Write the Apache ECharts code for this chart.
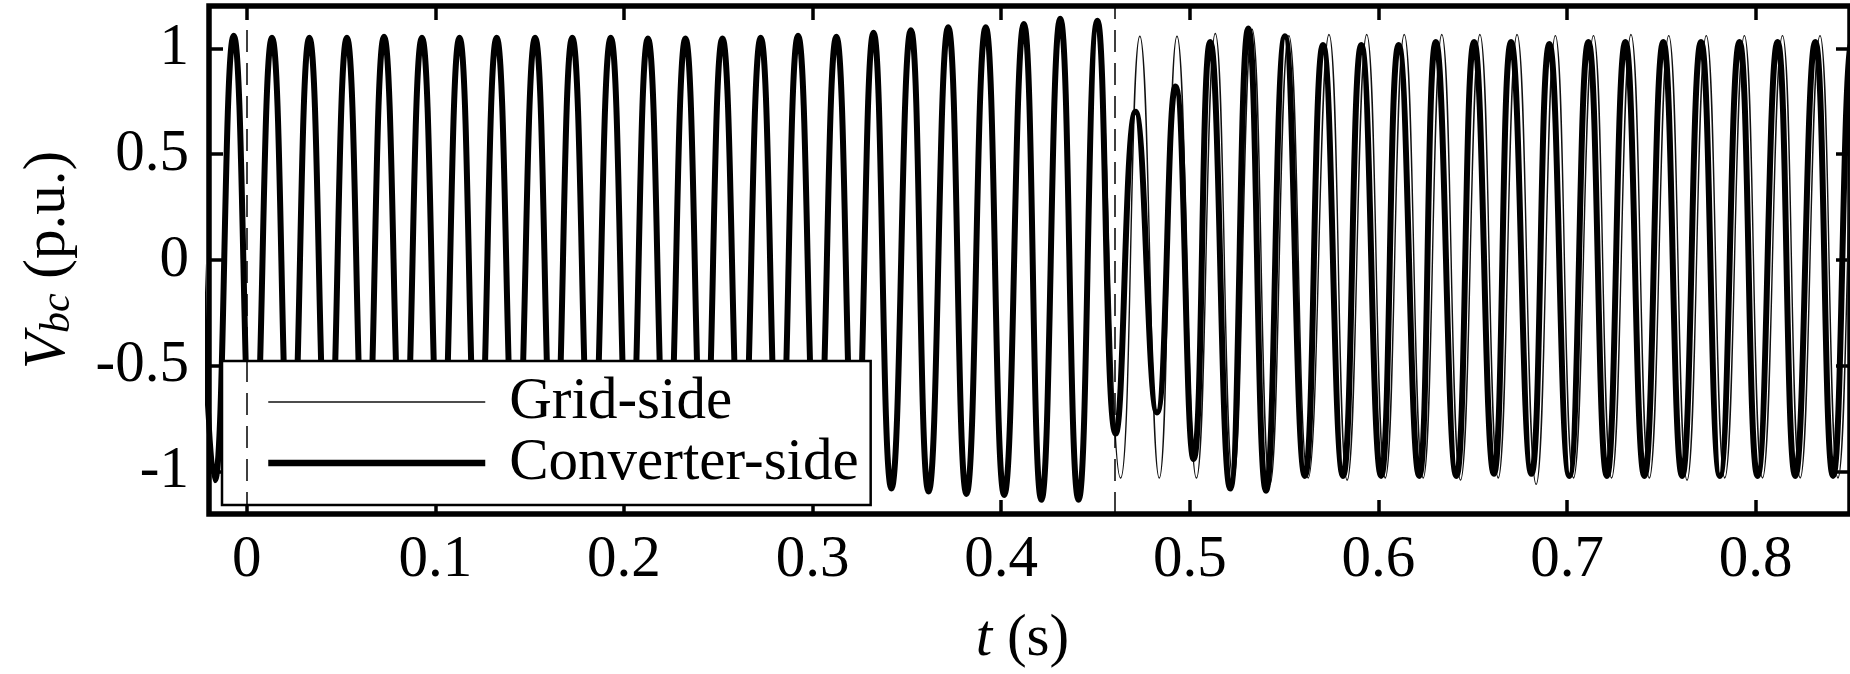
<!DOCTYPE html>
<html>
<head>
<meta charset="utf-8">
<script src="https://cdn.jsdelivr.net/npm/echarts@6/dist/echarts.min.js"></script>
<style>
html,body{margin:0;padding:0;background:#fff;}
#chart{width:1850px;height:674px;}
</style>
</head>
<body>
<div id="chart"></div>
<script>
// Extremes (peaks / troughs), time in s, value in p.u.
// Before the event both curves coincide.
const sharedT = [-0.0269,-0.0169,-0.0069,0.0033,0.0134,0.0233,0.0332,0.0432,0.0531,0.0630,0.0728,0.0829,0.0929,0.1029,0.1128,0.1227,0.1325,0.1427,0.1529,0.1628,0.1726,0.1828,0.1930,0.2029,0.2127,0.2227,0.2326,0.2424,0.2522,0.2624,0.2725,0.2824,0.2923,0.3025,0.3126,0.3225,0.3323,0.3418,0.3521,0.3615,0.3719,0.3816,0.3918,0.4016,0.4120,0.4213,0.4313,0.4410,0.4510];
const sharedV = [1.05,-1.04,1.06,-1.05,1.05,-1.05,1.05,-1.05,1.05,-1.05,1.055,-1.05,1.05,-1.05,1.05,-1.05,1.05,-1.05,1.05,-1.05,1.05,-1.05,1.05,-1.05,1.047,-1.05,1.047,-1.05,1.047,-1.05,1.05,-1.055,1.06,-1.06,1.055,-1.07,1.074,-1.079,1.086,-1.094,1.10,-1.105,1.10,-1.11,1.115,-1.133,1.14,-1.133,1.13];

const gridPostT = [0.4633,0.4735,0.4838,0.4932,0.5035,0.5135,0.5230,0.5330,0.5425,0.5525,0.5627,0.5738,0.5834,0.5938,0.6036,0.6137,0.6237,0.6336,0.6435,0.6538,0.6635,0.6735,0.6836,0.6938,0.7034,0.7140,0.7236,0.7339,0.7436,0.7539,0.7636,0.7738,0.7836,0.7940,0.8036,0.8142,0.8236,0.8341,0.8436,0.8540,0.8640];
const gridPostV = [-1.03,1.057,-1.03,1.057,-1.03,1.07,-1.04,1.09,-1.06,1.06,-1.03,1.065,-1.04,1.065,-1.03,1.065,-1.03,1.065,-1.04,1.065,-1.03,1.065,-1.06,1.06,-1.03,1.06,-1.03,1.065,-1.03,1.06,-1.04,1.06,-1.03,1.06,-1.03,1.06,-1.03,1.06,-1.03,1.06,-1.03];

const convPostT = [0.4607,0.4712,0.4826,0.4924,0.5020,0.5108,0.5214,0.5310,0.5404,0.5504,0.5610,0.5706,0.5812,0.5909,0.6014,0.6107,0.6216,0.6304,0.6413,0.6507,0.6612,0.6703,0.6811,0.6906,0.7012,0.7113,0.7211,0.7309,0.7410,0.7510,0.7610,0.7710,0.7810,0.7914,0.8010,0.8116,0.8210,0.8316,0.8410,0.8510,0.8610];
const convPostV = [-0.82,0.70,-0.72,0.82,-0.94,1.03,-1.08,1.094,-1.09,1.057,-1.02,1.016,-1.02,1.016,-1.02,1.016,-1.02,1.03,-1.02,1.03,-1.01,1.03,-1.01,1.02,-1.02,1.03,-1.02,1.03,-1.02,1.03,-1.02,1.03,-1.02,1.03,-1.02,1.03,-1.02,1.03,-1.02,1.03,-1.02];

const xTicks = [0,0.1,0.2,0.3,0.4,0.5,0.6,0.7,0.8];
const yTicks = [-1,-0.5,0,0.5,1];
const eventLines = [0, 0.455];
const seriesNames = ['Grid-side','Converter-side'];

const pairs = (T, V) => T.map((t, i) => [t, V[i]]);
const gridData = pairs(sharedT, sharedV).concat(pairs(gridPostT, gridPostV));
const convData = pairs(sharedT, sharedV).concat(pairs(convPostT, convPostV));

const FF = 'Liberation Serif';
const FS = 59;
const tickStyle = {show:true, inside:true, length:14, lineStyle:{color:'#000', width:3.5}};
const noLine = {show:false, onZero:false};

const chart = echarts.init(document.getElementById('chart'), null, {renderer:'canvas'});
chart.setOption({
  animation:false,
  backgroundColor:'#fff',
  grid:{left:205, right:-4, top:6, bottom:160, show:true, borderColor:'#000', borderWidth:5.5, backgroundColor:'transparent'},
  xAxis:[{
    type:'value', min:-0.02, max:0.85, position:'bottom',
    axisLine:noLine, splitLine:{show:false},
    axisTick:Object.assign({customValues:xTicks}, tickStyle),
    axisLabel:{customValues:xTicks, margin:17, color:'#000', fontFamily:FF, fontSize:FS},
    name:'{i|t} (s)', nameLocation:'middle', nameGap:96,
    nameTextStyle:{color:'#000', fontFamily:FF, fontSize:FS, padding:[0,14,0,0], rich:{i:{fontStyle:'italic', fontFamily:FF, fontSize:FS, color:'#000'}}}
  },{
    type:'value', min:-0.02, max:0.85, position:'top',
    axisLine:noLine, splitLine:{show:false}, axisLabel:{show:false},
    axisTick:Object.assign({customValues:xTicks}, tickStyle)
  }],
  yAxis:[{
    type:'value', min:-1.2, max:1.2, position:'left',
    axisLine:noLine, splitLine:{show:false},
    axisTick:Object.assign({customValues:yTicks}, tickStyle),
    axisLabel:{customValues:yTicks, margin:20, color:'#000', fontFamily:FF, fontSize:FS},
    name:'{i|V}{s|bc} (p.u.)', nameLocation:'middle', nameGap:130,
    nameTextStyle:{color:'#000', fontFamily:FF, fontSize:FS, lineHeight:62,
      rich:{
        i:{fontStyle:'italic', fontFamily:FF, fontSize:FS, color:'#000', lineHeight:62},
        s:{fontStyle:'italic', fontFamily:FF, fontSize:42, color:'#000', lineHeight:42, padding:[29,0,0,0], verticalAlign:'bottom'}
      }}
  },{
    type:'value', min:-1.2, max:1.2, position:'right',
    axisLine:noLine, splitLine:{show:false}, axisLabel:{show:false},
    axisTick:Object.assign({customValues:yTicks}, tickStyle)
  }],
  legend:{
    orient:'vertical', left:222, top:361,
    itemWidth:217, itemHeight:30, itemGap:1,
    padding:[11,12,12,43],
    backgroundColor:'#fff', borderColor:'#000', borderWidth:2.5, borderRadius:0,
    itemStyle:{opacity:0},
    textStyle:{color:'#000', fontFamily:FF, fontSize:FS, lineHeight:60, padding:[0,0,0,19]},
    data:[
      {name:seriesNames[0], lineStyle:{width:1.4, color:'#111'}},
      {name:seriesNames[1], lineStyle:{width:6.5, color:'#000'}}
    ]
  },
  series:[{
    name:seriesNames[0], type:'line', data:gridData, smooth:0.5, symbol:'none', showSymbol:false,
    lineStyle:{color:'#111', width:1.4}, itemStyle:{color:'#111'}, z:2,
    markLine:{silent:true, symbol:['none','none'], label:{show:false},
      lineStyle:{color:'#000', width:1.5, type:[22,11]},
      data:eventLines.map(v => ({xAxis:v}))}
  },{
    name:seriesNames[1], type:'line', data:convData, smooth:0.5, symbol:'none', showSymbol:false,
    lineStyle:{color:'#000', width:6}, itemStyle:{color:'#000'}, z:3
  }]
});
</script>
</body>
</html>
